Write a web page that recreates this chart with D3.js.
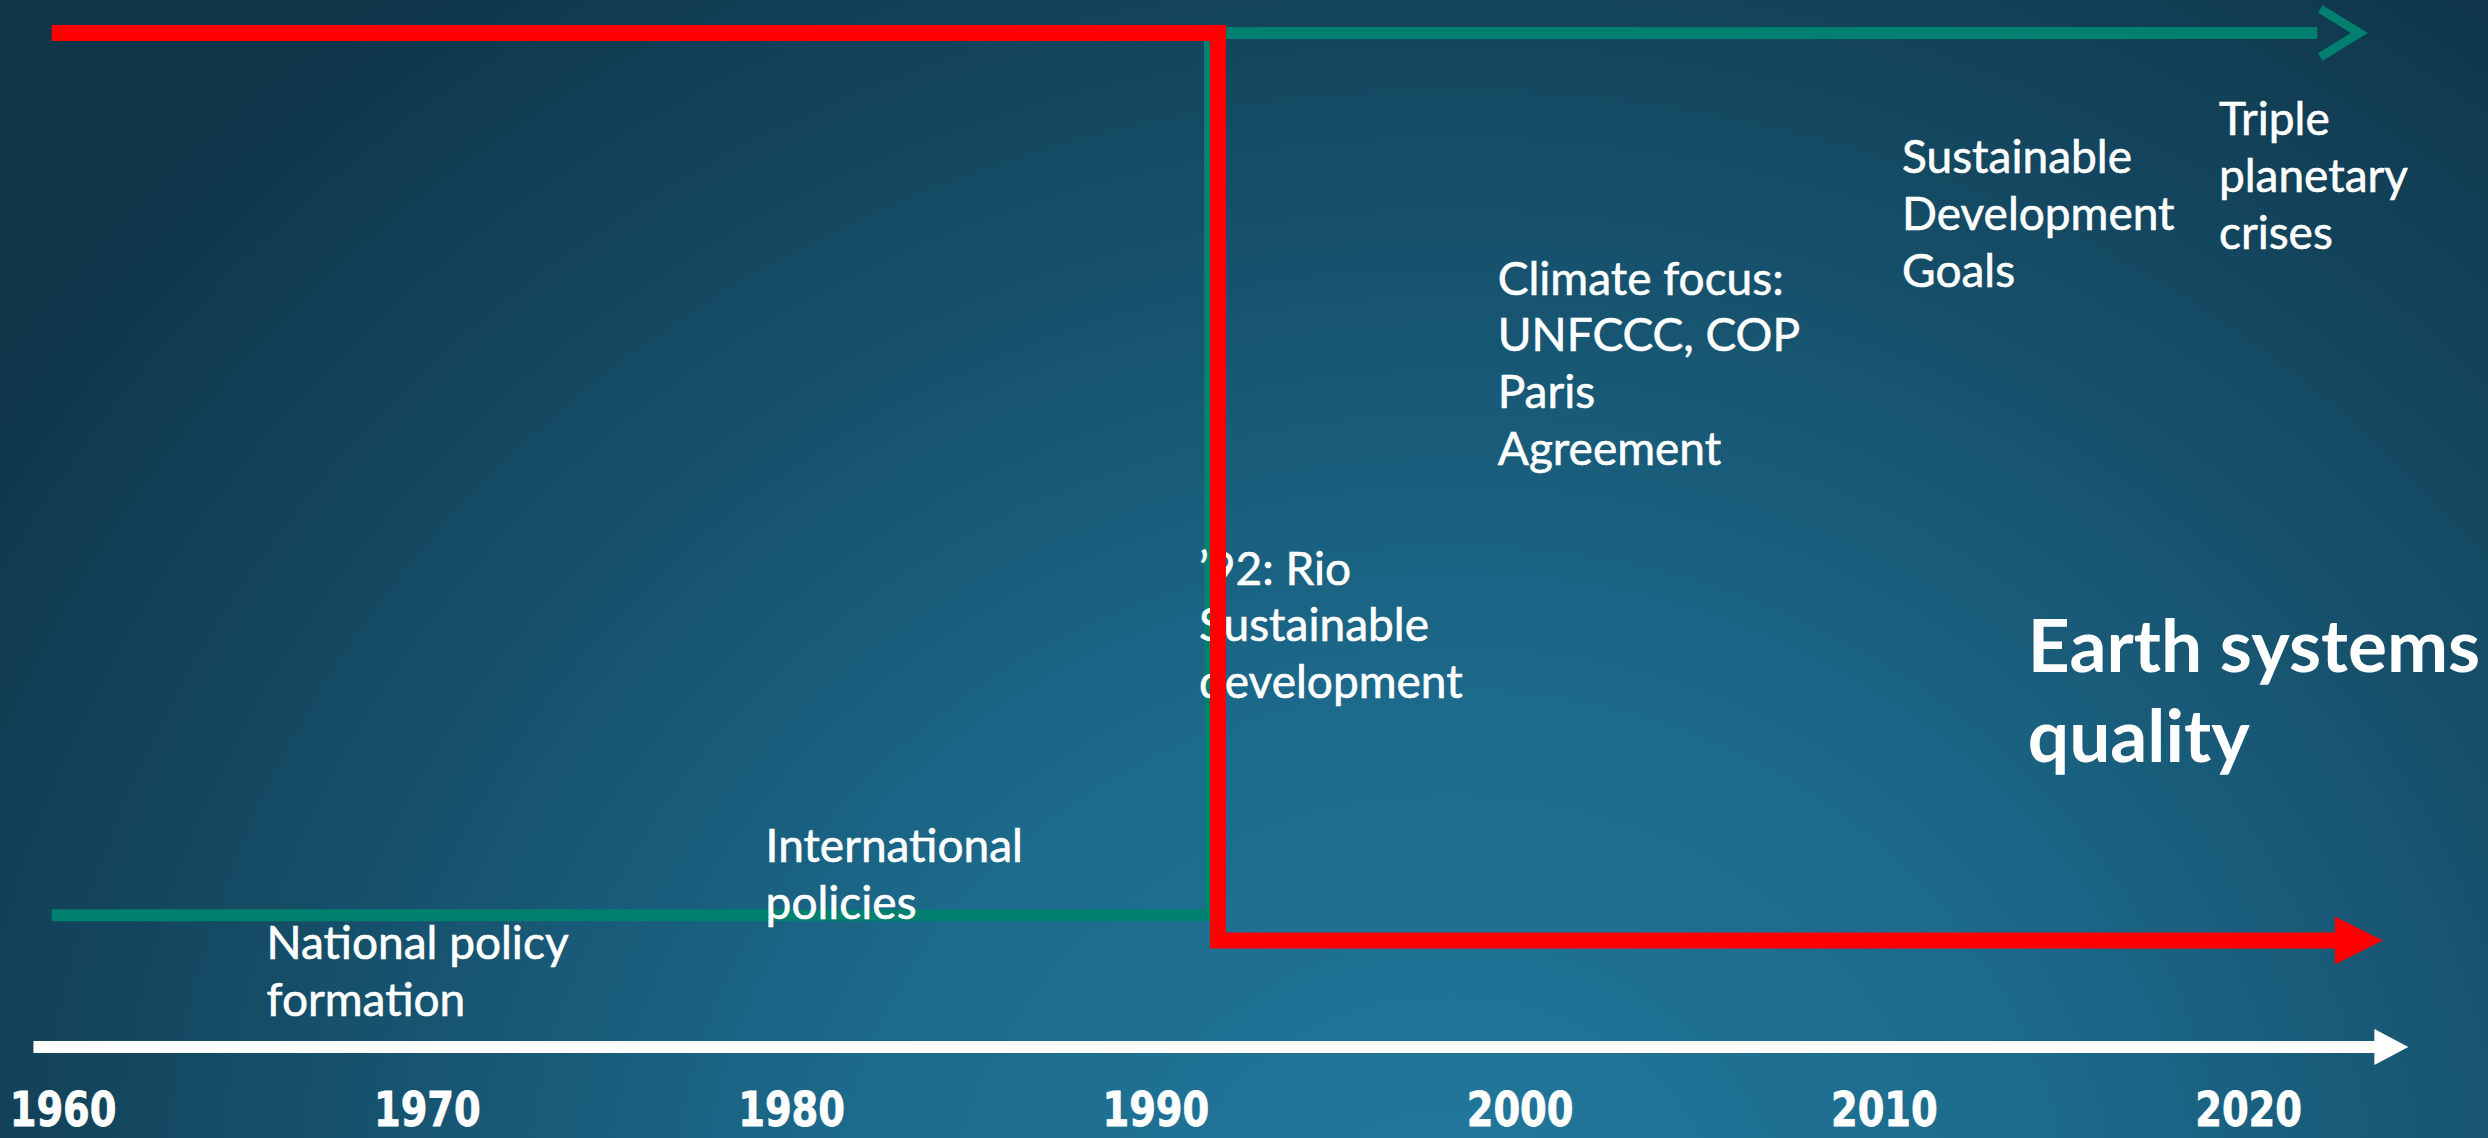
<!DOCTYPE html>
<html>
<head>
<meta charset="utf-8">
<script src="https://cdn.jsdelivr.net/npm/d3@7"></script>
<style>
  html, body { margin: 0; padding: 0; background: #12405a; overflow: hidden; }
  svg { display: block; }
</style>
</head>
<body>
<svg id="chart" width="2488" height="1138"></svg>
<script>
// ---------- data ----------
const tickYears = [1960, 1970, 1980, 1990, 2000, 2010, 2020];
const tickLabels = ["1960", "1970", "1980", "1990", "2000", "2010", "2020"];

// "Earth systems quality" (red) – step down after Rio '92
const redYears  = [1959.7, 1991.72, 1991.72, 2023.7];
const redLevels = [100, 100, 10.5, 10.5];

// policy focus (green) – national, then international after Rio '92
const greenYears  = [1959.7, 1991.5, 1991.5, 2023.3];
const greenLevels = [13, 13, 100, 100];

// time axis extent
const axisYears = [1959.2, 2024.4];

// annotations
const noteLines = [
  ["National policy", "formation"],
  ["International", "policies"],
  ["\u201992: Rio", "Sustainable", "development"],
  ["Climate focus:", "UNFCCC, COP", "Paris", "Agreement"],
  ["Sustainable", "Development", "Goals"],
  ["Triple", "planetary", "crises"]
];
const noteYears  = [1965.6, 1979.3, 1991.2, 1999.4, 2010.5, 2019.2];
const noteLevels = [8.7, 18.2, 45.6, 74.2, 86.2, 89.9];

const titleLines = ["Earth systems", "quality"];
const titleYear = 2013.95;
const titleLevel = 37.0;

// ---------- layout ----------
const W = 2488, H = 1138;
const svg = d3.select("#chart");

const x = d3.scaleLinear().domain([1960, 2020]).range([62.6, 2248.1]);
const y = d3.scaleLinear().domain([0, 100]).range([1047, 33]);

// background
const defs = svg.append("defs");
const grad = defs.append("radialGradient")
  .attr("id", "bg").attr("gradientUnits", "userSpaceOnUse")
  .attr("cx", 1450).attr("cy", 1250).attr("r", 1750)
  .attr("gradientTransform", "translate(1450,1250) scale(1,0.9) translate(-1450,-1250)");
grad.append("stop").attr("offset", 0).attr("stop-color", "#22799d");
grad.append("stop").attr("offset", 0.35).attr("stop-color", "#1c6a8c");
grad.append("stop").attr("offset", 0.7).attr("stop-color", "#154c66");
grad.append("stop").attr("offset", 1).attr("stop-color", "#0f3549");
svg.append("rect").attr("width", W).attr("height", H).attr("fill", "url(#bg)");

const RED = "#ff0000", GREEN = "#02806f", WHITE = "#ffffff";
const line = d3.line().x(d => d[0]).y(d => d[1]);

function pts(years, levels) { return years.map((yr, i) => [x(yr), y(levels[i])]); }

// ---------- time axis (white arrow) ----------
{
  const x0 = x(axisYears[0]), x1 = x(axisYears[1]), yy = y(0);
  const L = 34, h = 18;
  svg.append("path").attr("d", line([[x0, yy], [x1 - L + 1, yy]]))
    .attr("stroke", WHITE).attr("stroke-width", 12).attr("fill", "none");
  svg.append("path").attr("d", `M${x1 - L},${yy - h}L${x1},${yy}L${x1 - L},${yy + h}Z`).attr("fill", WHITE);
}

// year labels through d3 axis
const axisG = svg.append("g").attr("transform", `translate(0,${y(0)})`)
  .call(d3.axisBottom(x).tickValues(tickYears).tickFormat((d, i) => tickLabels[i]).tickSize(0).tickPadding(45));
axisG.select(".domain").remove();
axisG.selectAll("text")
  .attr("fill", WHITE)
  .attr("stroke", WHITE).attr("stroke-width", 0.8)
  .attr("transform", "scale(0.8,1)")
  .style("font-family", "'DejaVu Sans', sans-serif")
  .style("font-weight", "bold")
  .style("font-size", "48px");

// ---------- green line ----------
{
  const p = pts(greenYears, greenLevels);
  const tip = p[p.length - 1];
  const L = 51;
  const shaft = p.slice(0, -1).concat([[tip[0] - L, tip[1]]]);
  svg.append("path").attr("d", line(shaft.slice(0, 2)))
    .attr("stroke", GREEN).attr("stroke-width", 12).attr("fill", "none");
  svg.append("path").attr("d", line(shaft.slice(1, 3)))
    .attr("stroke", GREEN).attr("stroke-width", 12).attr("fill", "none");
  svg.append("path").attr("d", line(shaft.slice(2)))
    .attr("stroke", GREEN).attr("stroke-width", 12).attr("fill", "none");
  // open chevron
  svg.append("path")
    .attr("d", line([[tip[0] - 48, tip[1] - 24], [tip[0] - 9, tip[1]], [tip[0] - 48, tip[1] + 24]]))
    .attr("stroke", GREEN).attr("stroke-width", 9).attr("fill", "none")
    .attr("stroke-linejoin", "miter").attr("stroke-miterlimit", 10);
}

// ---------- annotations ----------
const textFont = "Lato, 'Open Sans', 'Noto Sans', sans-serif";
noteLines.forEach((lines, i) => {
  const t = svg.append("text")
    .attr("x", x(noteYears[i])).attr("y", y(noteLevels[i]))
    .attr("fill", WHITE)
    .attr("stroke", WHITE).attr("stroke-width", 0.6)
    .style("font-family", textFont).style("font-size", "46px");
  lines.forEach((ln, j) => {
    t.append("tspan").attr("x", x(noteYears[i])).attr("dy", j === 0 ? 0 : 56.8).text(ln);
  });
});

{
  const t = svg.append("text")
    .attr("x", x(titleYear)).attr("y", y(titleLevel))
    .attr("fill", WHITE)
    .style("font-family", textFont).style("font-weight", "bold").style("font-size", "73px");
  titleLines.forEach((ln, j) => {
    t.append("tspan").attr("x", x(titleYear)).attr("dy", j === 0 ? 0 : 90).text(ln);
  });
}

// ---------- red line (on top) ----------
{
  const p = pts(redYears, redLevels);
  const tip = p[p.length - 1];
  const L = 48, h = 24;
  const shaft = p.slice(0, -1).concat([[tip[0] - L + 1, tip[1]]]);
  svg.append("path").attr("d", line(shaft))
    .attr("stroke", RED).attr("stroke-width", 16).attr("fill", "none")
    .attr("stroke-linejoin", "miter");
  svg.append("path").attr("d", `M${tip[0] - L},${tip[1] - h}L${tip[0]},${tip[1]}L${tip[0] - L},${tip[1] + h}Z`).attr("fill", RED);
}
</script>
</body>
</html>
